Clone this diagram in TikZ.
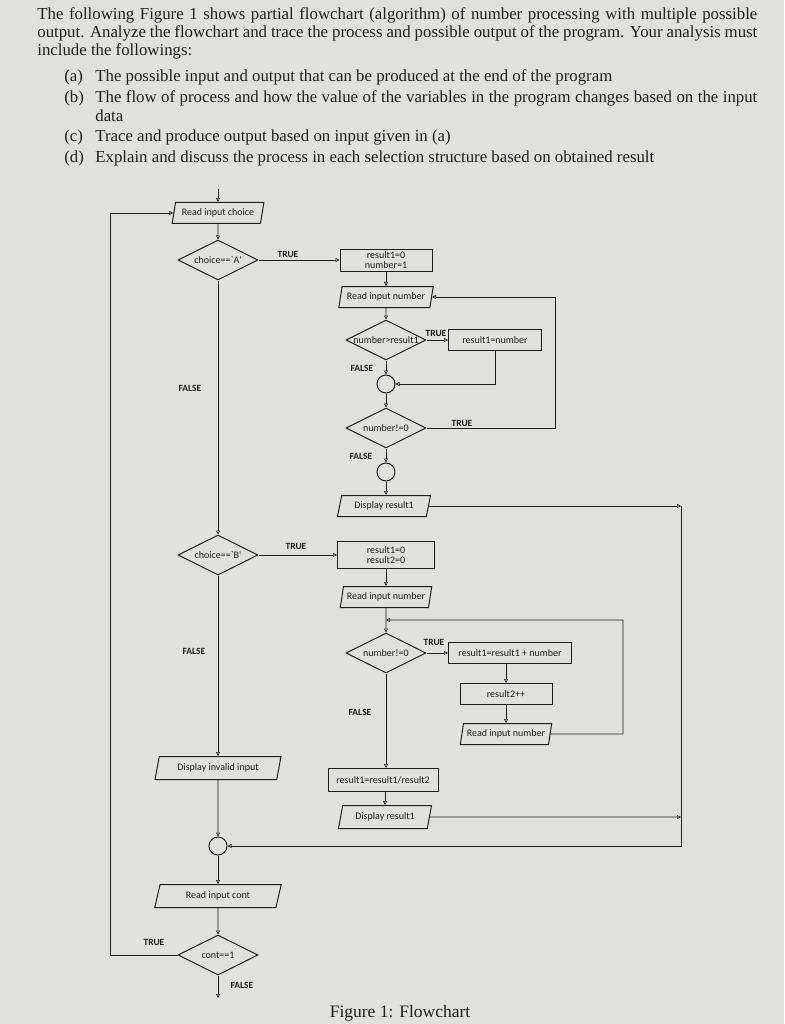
\documentclass[tikz,border=0pt]{standalone}
\usepackage{fontspec}
\setmainfont{Liberation Serif}
\newfontfamily\chartfont{Carlito}
\usepackage{tikz}
\usetikzlibrary{shapes.geometric,arrows.meta,positioning}
\definecolor{pagebg}{RGB}{224,224,221}
\definecolor{ink}{RGB}{30,30,30}
\tikzset{
  proc/.style={draw, rectangle, line width=1pt, minimum height=21pt, inner sep=1pt, align=center},
  io/.style={draw, trapezium, trapezium left angle=74, trapezium right angle=106, trapezium stretches=true, line width=1pt, minimum height=21pt, inner sep=1pt},
  decision/.style={draw, diamond, shape aspect=2, line width=1pt, minimum width=80pt, minimum height=40pt, inner sep=0pt},
  joint/.style={draw, circle, line width=1pt, minimum size=18pt, inner sep=0pt},
  flag/.style={font=\chartfont\bfseries\fontsize{9.5}{10}\selectfont},
  header/.style={anchor=west, inner sep=0pt, font=\fontsize{16.8}{19}\selectfont}
}

\begin{document}
\begin{tikzpicture}[
        x=1pt, y=-1pt,
        color=ink,
        line width=0.7pt,
        >={Triangle[open, length=4pt, width=4pt]},
        every node/.append style={font=\chartfont\fontsize{10}{10.5}\selectfont}
    ]
        % Page
        \fill[pagebg] (0,0) rectangle (784,1024);
        \useasboundingbox (0,0) rectangle (784,1024);

        % Task text
        \node[header] (line1) at (37,15) {\makebox[720pt][s]{The following Figure 1 shows partial flowchart (algorithm) of number processing with multiple possible}};
        \node[header] (line2) at (37,33) {\makebox[720pt][s]{output. Analyze the flowchart and trace the process and possible output of the program. Your analysis must}};
        \node[header] (line3) at (37,51) {include the followings:};
        \node[header] (itemA) at (64,77) {(a)};
        \node[header] (textA) at (95,77) {The possible input and output that can be produced at the end of the program};
        \node[header] (itemB) at (64,98) {(b)};
        \node[header] (textB) at (95,98) {\makebox[662pt][s]{The flow of process and how the value of the variables in the program changes based on the input}};
        \node[header] (textB2) at (95,116) {data};
        \node[header] (itemC) at (64,137) {(c)};
        \node[header] (textC) at (95,137) {Trace and produce output based on input given in (a)};
        \node[header] (itemD) at (64,158) {(d)};
        \node[header] (textD) at (95,158) {Explain and discuss the process in each selection structure based on obtained result};

        % Start and choice A
        \coordinate (entry) at (218,189);
        \node[io, minimum width=92pt] (readch) at (218,213) {Read input choice};
        \node[decision] (decA) at (218,260) {choice==`A'};
        \node[proc, minimum width=92pt, minimum height=22pt] (boxA) at (386,260) {result1=0\\number=1};
        \node[io, minimum width=95pt] (readA) at (386,297) {Read input number};
        \node[decision] (decGT) at (386,340) {number>result1};
        \node[proc, minimum width=93pt] (setmax) at (495,340) {result1=number};
        \node[joint] (joinA1) at (386,384) {};
        \node[decision] (decNZ) at (386,428) {number!=0};
        \node[joint] (joinA2) at (386,472) {};
        \node[io, minimum width=93pt] (dispA) at (384,506) {Display result1};
        \coordinate (loopA) at (555,428);
        \coordinate (rightA) at (681,506);

        % Choice B
        \node[decision] (decB) at (218,555) {choice==`B'};
        \node[proc, minimum width=97pt, minimum height=27pt] (initB) at (386,555) {result1=0\\result2=0};
        \node[io, minimum width=92pt] (readB) at (386,597) {Read input number};
        \coordinate (mergeB) at (386,620);
        \node[decision] (decB2) at (386,653) {number!=0};
        \node[proc, minimum width=123pt] (addNum) at (510,653) {result1=result1 + number};
        \node[proc, minimum width=92pt] (incCnt) at (506,694) {result2++};
        \node[io, minimum width=92pt] (readB2) at (506,734) {Read input number};
        \coordinate (loopB) at (623,734);
        \node[proc, minimum width=110pt, minimum height=23pt] (average) at (383,780) {result1=result1/result2};
        \node[io, minimum width=93pt, minimum height=23pt] (dispB) at (385,817) {Display result1};
        \coordinate (rightB) at (681,817);

        % Invalid choice and repeat
        \node[io, minimum width=127pt, minimum height=23pt] (invalid) at (218,768) {Display invalid input};
        \node[joint] (joinEnd) at (218,846) {};
        \node[io, minimum width=127pt, minimum height=23pt] (readCont) at (218,896) {Read input cont};
        \node[decision] (contd) at (218,955) {cont==1};
        \coordinate (loopL) at (110,955);
        \coordinate (exit) at (218,998);

        % Branch labels
        \node[flag] (tA) at (288,254) {TRUE};
        \node[flag] (tGT) at (436,333) {TRUE};
        \node[flag] (fGT) at (362,368) {FALSE};
        \node[flag] (fA) at (190,388) {FALSE};
        \node[flag] (tNZ) at (462,423) {TRUE};
        \node[flag] (fNZ) at (361,456) {FALSE};
        \node[flag] (tB) at (296,546) {TRUE};
        \node[flag] (tB2) at (434,642) {TRUE};
        \node[flag] (fB) at (194,651) {FALSE};
        \node[flag] (fB2) at (360,712) {FALSE};
        \node[flag] (tC) at (154,942) {TRUE};
        \node[flag] (fC) at (242,985) {FALSE};

        % Caption
        \node[font=\fontsize{17.5}{20}\selectfont] (caption) at (400,1013) {Figure 1: Flowchart};

        % Connect nodes
        \draw[->] (entry) -- (readch);
        \draw[->] (readch) -- (decA);
        \draw[->] (decA) -- (boxA);
        \draw[->] (boxA) -- (readA);
        \draw[->] (readA) -- (decGT);
        \draw[->] (decGT) -- (setmax);
        \draw[->] (decGT) -- (joinA1);
        \draw[->] (setmax) |- (joinA1);
        \draw[->] (joinA1) -- (decNZ);
        \draw[->] (decNZ) -- (loopA) |- (readA);
        \draw[->] (decNZ) -- (joinA2);
        \draw[->] (joinA2) -- (dispA.north -| joinA2);
        \draw[->] (dispA) -- (rightA);
        \draw[->] (rightA) |- (joinEnd);
        \draw[->] (decA) -- (decB);
        \draw[->] (decB) -- (initB);
        \draw[->] (initB) -- (readB);
        \draw[->] (readB) -- (decB2);
        \draw[->] (readB2) -- (loopB) |- (mergeB);
        \draw[->] (decB2) -- (addNum);
        \draw[->] (incCnt.north |- addNum.south) -- (incCnt);
        \draw[->] (incCnt) -- (readB2);
        \draw[->] (decB2) -- (decB2 |- average.north);
        \draw[->] (average.south -| dispB) -- (dispB);
        \draw[->] (dispB) -- (rightB);
        \draw[->] (decB) -- (invalid);
        \draw[->] (invalid) -- (joinEnd);
        \draw[->] (joinEnd) -- (readCont);
        \draw[->] (readCont) -- (contd);
        \draw[->] (contd) -- (exit);
        \draw[->] (contd) -- (loopL) |- (readch);
    \end{tikzpicture}
\end{document}
